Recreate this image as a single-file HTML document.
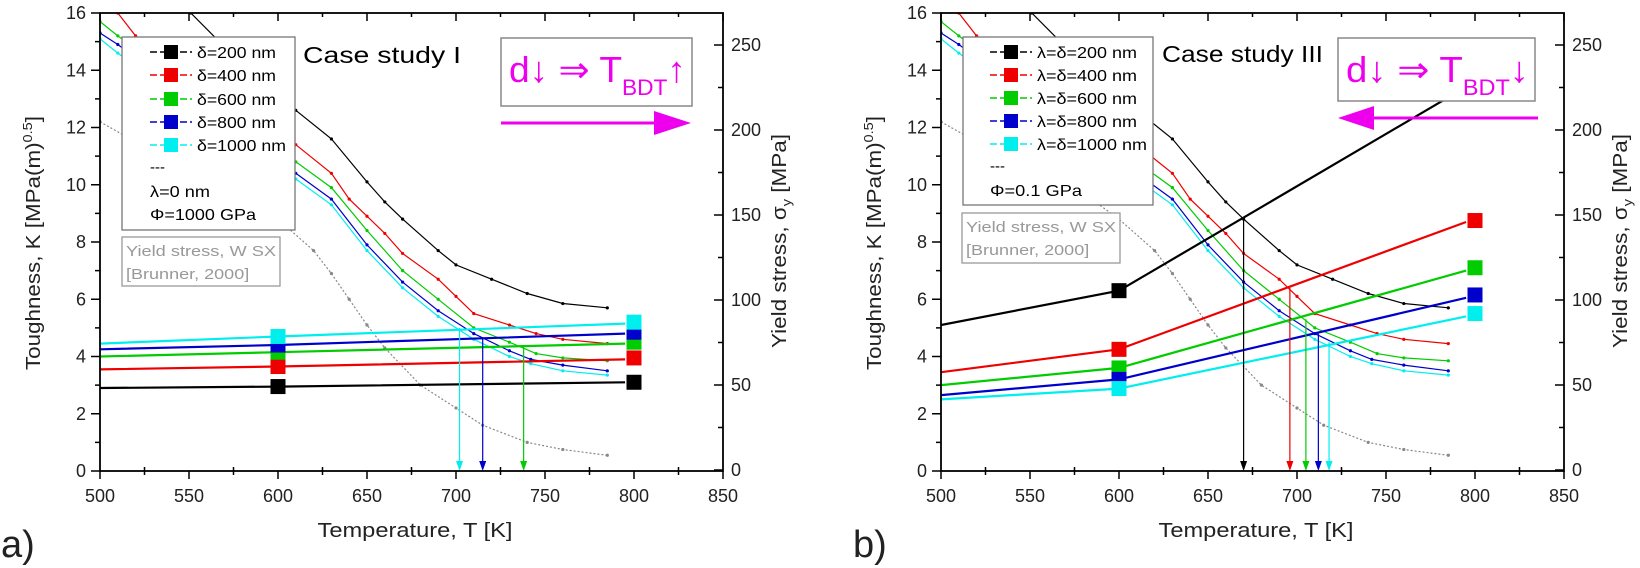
<!DOCTYPE html><html><head><meta charset="utf-8"><style>
body{margin:0;background:#fff;}
svg{display:block;font-family:"Liberation Sans",sans-serif;}
</style></head><body>
<svg id="s" width="1640" height="568" xmlns="http://www.w3.org/2000/svg"></svg>
<script>
(function(){
const S=document.getElementById('s');let h='';
const TOP=13,BOT=471,W=623;
const LA='lengthAdjust="spacingAndGlyphs"';
function panel(L,p){
 const R=L+W;
 const X=t=>L+(t-500)/350*W, Y=k=>BOT-k*(BOT-TOP)/16;
 const pl=(pts,c,w,extra)=>`<polyline points="${pts.map(q=>X(q[0]).toFixed(1)+','+Y(q[1]).toFixed(1)).join(' ')}" fill="none" stroke="${c}" stroke-width="${w}" ${extra||''}/>`;
 let g=`<defs><clipPath id="c${L}"><rect x="${L}" y="${TOP}" width="${W}" height="${BOT-TOP}"/></clipPath></defs><g clip-path="url(#c${L})">`;
 const ys={
  '#888':[[500,12.2],[520,11.5],[550,10.6],[580,9.7],[600,8.8],[620,7.7],[630,6.9],[640,6.0],[650,5.1],[660,4.3],[680,3.0],[700,2.2],[715,1.6],[740,1.0],[760,0.75],[785,0.55]],
  '#000':[[551,16],[575,14.5],[595,13.3],[610,12.6],[630,11.6],[650,10.1],[660,9.4],[670,8.8],[690,7.7],[700,7.2],[720,6.7],[740,6.2],[760,5.85],[785,5.7]],
  '#e00':[[510,16],[520,15.2],[560,13.3],[610,11.4],[630,10.4],[640,9.5],[650,8.9],[660,8.3],[670,7.6],[690,6.7],[700,6.1],[710,5.5],[730,5.1],[745,4.8],[760,4.6],[785,4.45]],
  '#0c0':[[500,15.7],[510,15.2],[560,13.0],[610,10.8],[630,9.9],[650,8.4],[670,7.0],[690,6.0],[710,5.0],[730,4.5],[745,4.1],[760,3.95],[785,3.85]],
  '#00c':[[500,15.3],[510,14.9],[560,12.6],[610,10.4],[630,9.5],[650,7.9],[670,6.6],[690,5.6],[710,4.8],[730,4.2],[742,3.9],[760,3.7],[785,3.5]],
  '#0ee':[[500,15.1],[510,14.6],[560,12.4],[610,10.2],[630,9.3],[650,7.7],[670,6.4],[690,5.4],[710,4.6],[730,4.0],[742,3.75],[760,3.5],[785,3.35]]};
 for(const c in ys){g+=pl(ys[c],c,1.2,'stroke-dasharray="'+(c=='#888'?'2,2':'none')+'"');
  ys[c].forEach(q=>{g+=`<circle cx="${X(q[0])}" cy="${Y(q[1])}" r="1.6" fill="${c}"/>`});}
 const cols=['#000','#e00','#0c0','#00c','#0ee'];
 const lines=p==0?[[2.9,2.95,3.1,3.1],[3.55,3.65,3.9,3.95],[4.0,4.15,4.45,4.5],[4.25,4.4,4.8,4.85],[4.45,4.7,5.15,5.2]]
  :[[5.1,6.3,13.6,null,800],[3.45,4.25,8.7,8.75],[3.0,3.6,7.0,7.1],[2.65,3.2,6.05,6.15],[2.5,2.88,5.4,5.5]];
 lines.forEach((l,i)=>{const c=cols[i];
  g+=pl([[500,l[0]],[600,l[1]],[l[4]||795,l[2]]],c,2.2);
  g+=`<rect x="${X(600)-7.5}" y="${Y(l[1])-7.5}" width="15" height="15" fill="${c}"/>`;
  if(l[3]!=null)g+=`<rect x="${X(800)-7.5}" y="${Y(l[3])-7.5}" width="15" height="15" fill="${c}"/>`;});
 const arr=p==0?[[702,5.0,'#0ee'],[715,4.65,'#00c'],[738,4.4,'#0c0']]:[[670,8.8,'#000'],[696,6.4,'#e00'],[705,5.3,'#0c0'],[712,4.8,'#00c'],[718,4.5,'#0ee']];
 arr.forEach(a=>{const x=X(a[0]);g+=`<line x1="${x}" y1="${Y(a[1])}" x2="${x}" y2="${BOT-9}" stroke="${a[2]}" stroke-width="1.2"/><polygon points="${x-3.5},${BOT-10} ${x+3.5},${BOT-10} ${x},${BOT}" fill="${a[2]}"/>`;});
 g+='</g>';
 g+=`<rect x="${L}" y="${TOP}" width="${W}" height="${BOT-TOP}" fill="none" stroke="#000" stroke-width="1.8"/>`;
 for(let t=500;t<=850;t+=25){const x=X(t),m=t%50==0;g+=`<line x1="${x}" y1="${BOT+(m?8:4)}" x2="${x}" y2="${BOT-(m?0:4)}" stroke="#000" stroke-width="1.5"/><line x1="${x}" y1="${TOP}" x2="${x}" y2="${TOP+(m?8:4)}" stroke="#000" stroke-width="1.5"/>`;
  if(m)g+=`<text x="${x}" y="${BOT+31}" font-size="18" text-anchor="middle" fill="#222">${t}</text>`;}
 for(let k=0;k<=16;k+=1){const y=Y(k),m=k%2==0;g+=`<line x1="${L-(m?9:5)}" y1="${y}" x2="${L}" y2="${y}" stroke="#000" stroke-width="1.5"/>`;
  if(m)g+=`<text x="${L-14}" y="${y+6}" font-size="18" text-anchor="end" fill="#222">${k}</text>`;}
 for(let s=0;s<=260;s+=25){const y=470-s*1.70,m=s%50==0;g+=`<line x1="${R}" y1="${y}" x2="${R-(m?9:5)}" y2="${y}" stroke="#000" stroke-width="1.5"/>`;
  if(m)g+=`<text x="${R+8}" y="${y+6}" font-size="18" fill="#222">${s}</text>`;}
 g+=`<text x="${L+315}" y="537" font-size="20" text-anchor="middle" textLength="195" ${LA} fill="#222">Temperature, T [K]</text>`;
 g+=`<text transform="translate(${L-60},243) rotate(-90)" font-size="20" text-anchor="middle" textLength="254" ${LA} fill="#222">Toughness, K [MPa(m)<tspan dy="-8" font-size="13">0.5</tspan><tspan dy="8">]</tspan></text>`;
 g+=`<text transform="translate(${R+63},241) rotate(-90)" font-size="20" text-anchor="middle" textLength="214" ${LA} fill="#222">Yield stress, σ<tspan dy="5" font-size="13">y</tspan><tspan dy="-5"> [MPa]</tspan></text>`;
 const lx=p==0?122:963, lr=p==0?295:1153, lb=p==0?230:205;
 const rowy=p==0?[52,75,99,122,145]:[52,75,98,121,144];
 g+=`<rect x="${lx}" y="37" width="${lr-lx}" height="${lb-37}" fill="#fff" stroke="#777" stroke-width="1.3"/>`;
 const lab=p==0?['δ=200 nm','δ=400 nm','δ=600 nm','δ=800 nm','δ=1000 nm']:['λ=δ=200 nm','λ=δ=400 nm','λ=δ=600 nm','λ=δ=800 nm','λ=δ=1000 nm'];
 const l0=p==0?150:990, tx=p==0?197:1037;
 lab.forEach((t,i)=>{const y=rowy[i];g+=`<line x1="${l0}" y1="${y}" x2="${l0+42}" y2="${y}" stroke="${cols[i]}" stroke-width="1.6" stroke-dasharray="7,3"/><rect x="${l0+14}" y="${y-7}" width="14" height="14" fill="${cols[i]}"/><text x="${tx}" y="${y+6}" font-size="16" textLength="${(p==0?79:100)+(i==4?10:0)}" ${LA}>${t}</text>`;});
 g+=`<text x="${l0}" y="${rowy[4]+27}" font-size="15">---</text>`;
 if(p==0){g+=`<text x="${l0}" y="${191+6}" font-size="16" textLength="60" ${LA}>λ=0 nm</text><text x="${l0}" y="${214+6}" font-size="16" textLength="106" ${LA}>Φ=1000 GPa</text>`;}
 else g+=`<text x="${l0}" y="${190+6}" font-size="16" textLength="92" ${LA}>Φ=0.1 GPa</text>`;
 const yb=p==0?[122,237,280,286]:[962,213,1120,263];
 g+=`<rect x="${yb[0]}" y="${yb[1]}" width="${yb[2]-yb[0]}" height="${yb[3]-yb[1]}" fill="#fff" stroke="#999" stroke-width="1.3"/><text x="${yb[0]+4}" y="${yb[1]+19}" font-size="15" fill="#999" textLength="${yb[2]-yb[0]-8}" ${LA}>Yield stress, W SX</text><text x="${yb[0]+4}" y="${yb[1]+42}" font-size="15" fill="#999" textLength="${(yb[2]-yb[0])*0.78}" ${LA}>[Brunner, 2000]</text>`;
 g+=p==0?`<text x="303" y="63" font-size="23" textLength="158" ${LA}>Case study I</text>`:`<text x="1162" y="62" font-size="23" textLength="161" ${LA}>Case study III</text>`;
 const bx=p==0?501:1338, br=p==0?692:1535, bb=p==0?106:101;
 g+=`<rect x="${bx}" y="38" width="${br-bx}" height="${bb-38}" fill="#fff" stroke="#888" stroke-width="1.5"/>`;
 g+=`<text x="${bx+8}" y="82" font-size="36" fill="#e0e" textLength="${br-bx-14}" ${LA}>d↓ ⇒ T<tspan dy="13" font-size="22">BDT</tspan><tspan dy="-13">${p==0?'↑':'↓'}</tspan></text>`;
 if(p==0)g+=`<line x1="501" y1="123" x2="660" y2="123" stroke="#e0e" stroke-width="3"/><polygon points="654,111 691,123 654,135" fill="#e0e"/>`;
 else g+=`<line x1="1370" y1="118" x2="1538" y2="118" stroke="#e0e" stroke-width="3"/><polygon points="1374,106 1338,118 1374,130" fill="#e0e"/>`;
 g+=`<text x="${p==0?1:853}" y="557" font-size="38" fill="#222">${p==0?'a)':'b)'}</text>`;
 return g;}
h+=panel(100,0)+panel(941,1);
S.innerHTML=h;
})();
</script></body></html>
